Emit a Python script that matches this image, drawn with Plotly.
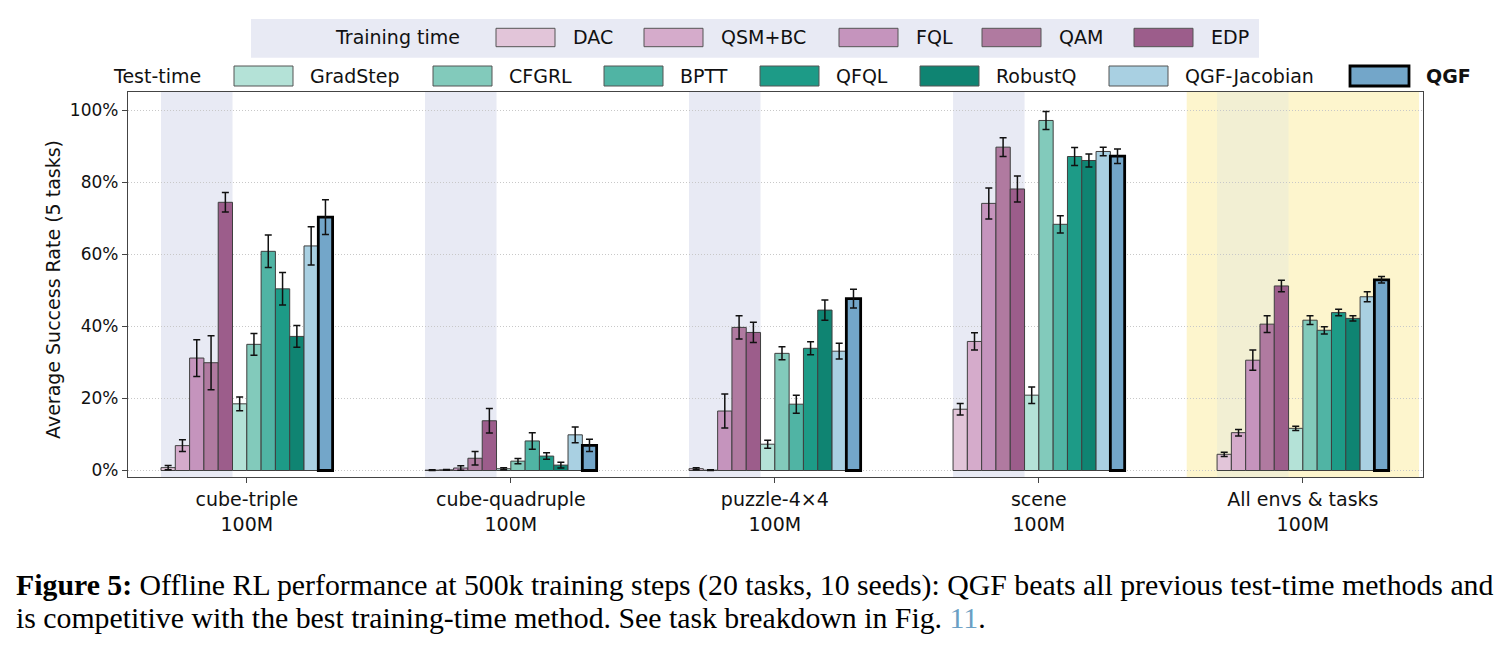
import plotly.graph_objects as go

# ---------------- data ----------------
groups = ["cube-triple<br>100M", "cube-quadruple<br>100M", "puzzle-4×4<br>100M",
          "scene<br>100M", "All envs &amp; tasks<br>100M"]
methods = ["DAC", "QSM+BC", "FQL", "QAM", "EDP",
           "GradStep", "CFGRL", "BPTT", "QFQL", "RobustQ", "QGF-Jacobian", "QGF"]
training_methods = ["DAC", "QSM+BC", "FQL", "QAM", "EDP"]
testtime_methods = ["GradStep", "CFGRL", "BPTT", "QFQL", "RobustQ", "QGF-Jacobian", "QGF"]

dac        = [0.8, 0.1, 0.5, 17.0, 4.5]
dac_err    = [0.6, 0.1, 0.3, 1.6, 0.6]
qsmbc      = [6.9, 0.2, 0.1, 35.8, 10.5]
qsmbc_err  = [1.6, 0.1, 0.1, 2.4, 0.9]
fql        = [31.2, 0.7, 16.5, 74.1, 30.6]
fql_err    = [5.1, 0.6, 4.7, 4.3, 2.8]
qam        = [29.9, 3.4, 39.7, 89.7, 40.6]
qam_err    = [7.5, 1.9, 3.2, 2.6, 2.3]
edp        = [74.4, 13.8, 38.3, 78.1, 51.2]
edp_err    = [2.7, 3.4, 2.8, 3.6, 1.6]
gradstep   = [18.5, 0.5, 7.3, 20.9, 11.7]
gradstep_err = [1.9, 0.3, 1.1, 2.3, 0.6]
cfgrl      = [35.0, 2.6, 32.5, 97.1, 41.7]
cfgrl_err  = [3.0, 0.7, 1.8, 2.5, 1.2]
bptt       = [60.8, 8.2, 18.4, 68.3, 38.9]
bptt_err   = [4.5, 2.3, 2.5, 2.4, 1.0]
qfql       = [50.4, 4.0, 33.9, 87.1, 43.8]
qfql_err   = [4.5, 0.9, 1.8, 2.5, 0.9]
robustq    = [37.2, 1.5, 44.5, 86.0, 42.2]
robustq_err = [3.0, 0.8, 2.8, 1.8, 0.7]
qgfjac     = [62.3, 9.9, 33.1, 88.5, 48.2]
qgfjac_err = [5.3, 2.2, 2.2, 1.2, 1.4]
qgf        = [70.3, 7.0, 47.7, 87.2, 52.9]
qgf_err    = [4.8, 1.7, 2.6, 2.0, 0.9]

values = [dac, qsmbc, fql, qam, edp, gradstep, cfgrl, bptt, qfql, robustq, qgfjac, qgf]
errors = [dac_err, qsmbc_err, fql_err, qam_err, edp_err, gradstep_err, cfgrl_err,
          bptt_err, qfql_err, robustq_err, qgfjac_err, qgf_err]

colors = ["#e2c5d9", "#d5abcb", "#c594bd", "#b07aa0", "#9c5d8b",
          "#b4e2d7", "#82cabb", "#50b4a4", "#1d9b87", "#0f8472", "#a9d0e2", "#73a6c9"]

yticks = [0, 20, 40, 60, 80, 100]

# ---------------- layout constants ----------------
W, H = 1510, 650
PL, PT, PW, PH = 128, 92, 1295, 385
FONT = "DejaVu Sans"
LAV = "#e8eaf4"
YEL = "#fdf5cd"
LAV_ON_YEL = "#f2efd3"

BARGAP = 0.35
BW = (1 - BARGAP) / len(methods)

def px(x):
    return (x - PL) / PW

def py(y):
    return (PT + PH - y) / PH

fig = go.Figure()
xs = list(range(len(groups)))
for i, m in enumerate(methods):
    is_qgf = (m == "QGF")
    fig.add_trace(go.Bar(
        x=xs, y=values[i], name=m, showlegend=False,
        marker=dict(color=colors[i],
                    line=dict(color="#000000" if is_qgf else "#3f3f3f",
                              width=2.8 if is_qgf else 1)),
        error_y=dict(type="data", array=errors[i], visible=True,
                     color="#111111", thickness=1.5, width=3.5),
    ))

shapes = []
# yellow highlight of the last group
last = len(groups) - 1
shapes.append(dict(type="rect", xref="x", yref="paper", x0=last - 0.44, x1=last + 0.44,
                   y0=0, y1=1, fillcolor=YEL, line=dict(width=0), layer="below"))
# lavender shading behind training-time bars
n_train = len(training_methods)
for g in xs:
    x0 = g - (1 - BARGAP) / 2
    x1 = x0 + n_train * BW
    shapes.append(dict(type="rect", xref="x", yref="paper", x0=x0, x1=x1, y0=0, y1=1,
                       fillcolor=LAV_ON_YEL if g == last else LAV,
                       line=dict(width=0), layer="below"))

annotations = []

# ---------------- manual legend ----------------
shapes.append(dict(type="rect", xref="paper", yref="paper", x0=px(251), x1=px(1259),
                   y0=py(57.7), y1=py(19), fillcolor=LAV, line=dict(width=0)))
annotations.append(dict(text="Training time", xref="paper", yref="paper", x=px(333), y=py(37.5),
                        xanchor="left", yanchor="middle", showarrow=False,
                        font=dict(family=FONT, size=19, color="#111")))
row1_sw = [496, 644, 839, 982, 1134]
for k, m in enumerate(training_methods):
    x0 = row1_sw[k]
    shapes.append(dict(type="rect", xref="paper", yref="paper", x0=px(x0), x1=px(x0 + 59),
                       y0=py(46.7), y1=py(28.3), fillcolor=colors[methods.index(m)],
                       line=dict(color="#555555", width=1)))
    annotations.append(dict(text=m, xref="paper", yref="paper", x=px(x0 + 75), y=py(37.5),
                            xanchor="left", yanchor="middle", showarrow=False,
                            font=dict(family=FONT, size=19, color="#111")))

annotations.append(dict(text="Test-time", xref="paper", yref="paper", x=px(111), y=py(76),
                        xanchor="left", yanchor="middle", showarrow=False,
                        font=dict(family=FONT, size=19, color="#111")))
row2_sw = [234, 433, 604, 760, 920, 1109, 1350]
for k, m in enumerate(testtime_methods):
    x0 = row2_sw[k]
    is_qgf = (m == "QGF")
    shapes.append(dict(type="rect", xref="paper", yref="paper", x0=px(x0), x1=px(x0 + 59),
                       y0=py(86), y1=py(66), fillcolor=colors[methods.index(m)],
                       line=dict(color="#000000" if is_qgf else "#555555",
                                 width=2.8 if is_qgf else 1)))
    annotations.append(dict(text=f"<b>{m}</b>" if is_qgf else m, xref="paper", yref="paper",
                            x=px(x0 + 74), y=py(76), xanchor="left", yanchor="middle",
                            showarrow=False, font=dict(family=FONT, size=19, color="#111")))

# y-axis title
annotations.append(dict(text="Average Success Rate (5 tasks)", xref="paper", yref="paper",
                        x=px(53), y=py(290), textangle=-90, xanchor="center", yanchor="middle",
                        showarrow=False, font=dict(family=FONT, size=19, color="#111")))

# caption
CAP = "Liberation Serif"
annotations.append(dict(
    text="<b>Figure 5:</b> Offline RL performance at 500k training steps (20 tasks, 10 seeds): "
         "QGF beats all previous test-time methods and",
    xref="paper", yref="paper", x=px(14), y=py(585), xanchor="left", yanchor="middle",
    showarrow=False, font=dict(family=CAP, size=29.8, color="#000")))
annotations.append(dict(
    text="is competitive with the best training-time method. See task breakdown in Fig. "
         "<span style='color:#6a9fc4'>11</span>.",
    xref="paper", yref="paper", x=px(14), y=py(617), xanchor="left", yanchor="middle",
    showarrow=False, font=dict(family=CAP, size=29.8, color="#000")))

fig.update_layout(
    width=W, height=H,
    margin=dict(l=PL, r=W - PL - PW, t=PT, b=H - PT - PH, autoexpand=False),
    paper_bgcolor="white", plot_bgcolor="white",
    barmode="group", bargap=BARGAP, bargroupgap=0,
    shapes=shapes, annotations=annotations,
    font=dict(family=FONT, size=17, color="#111"),
    showlegend=False,
)
fig.update_xaxes(
    range=[-0.45, 4.455], tickmode="array", tickvals=xs, ticktext=groups,
    tickfont=dict(family=FONT, size=19, color="#111"),
    ticks="outside", ticklen=5, tickcolor="#444", showgrid=False,
    showline=True, linecolor="#444", linewidth=1.3, mirror=True, zeroline=False,
)
fig.update_yaxes(
    range=[-1.8, 105], tickmode="array", tickvals=yticks,
    ticktext=[f"{v}%" for v in yticks],
    tickfont=dict(family=FONT, size=17, color="#111"),
    ticks="outside", ticklen=5, tickcolor="#444",
    showgrid=True, gridcolor="#c8c8c8", griddash="1px,2px", gridwidth=1,
    showline=True, linecolor="#444", linewidth=1.3, mirror=True, zeroline=False,
)

fig.write_html("out.html")
